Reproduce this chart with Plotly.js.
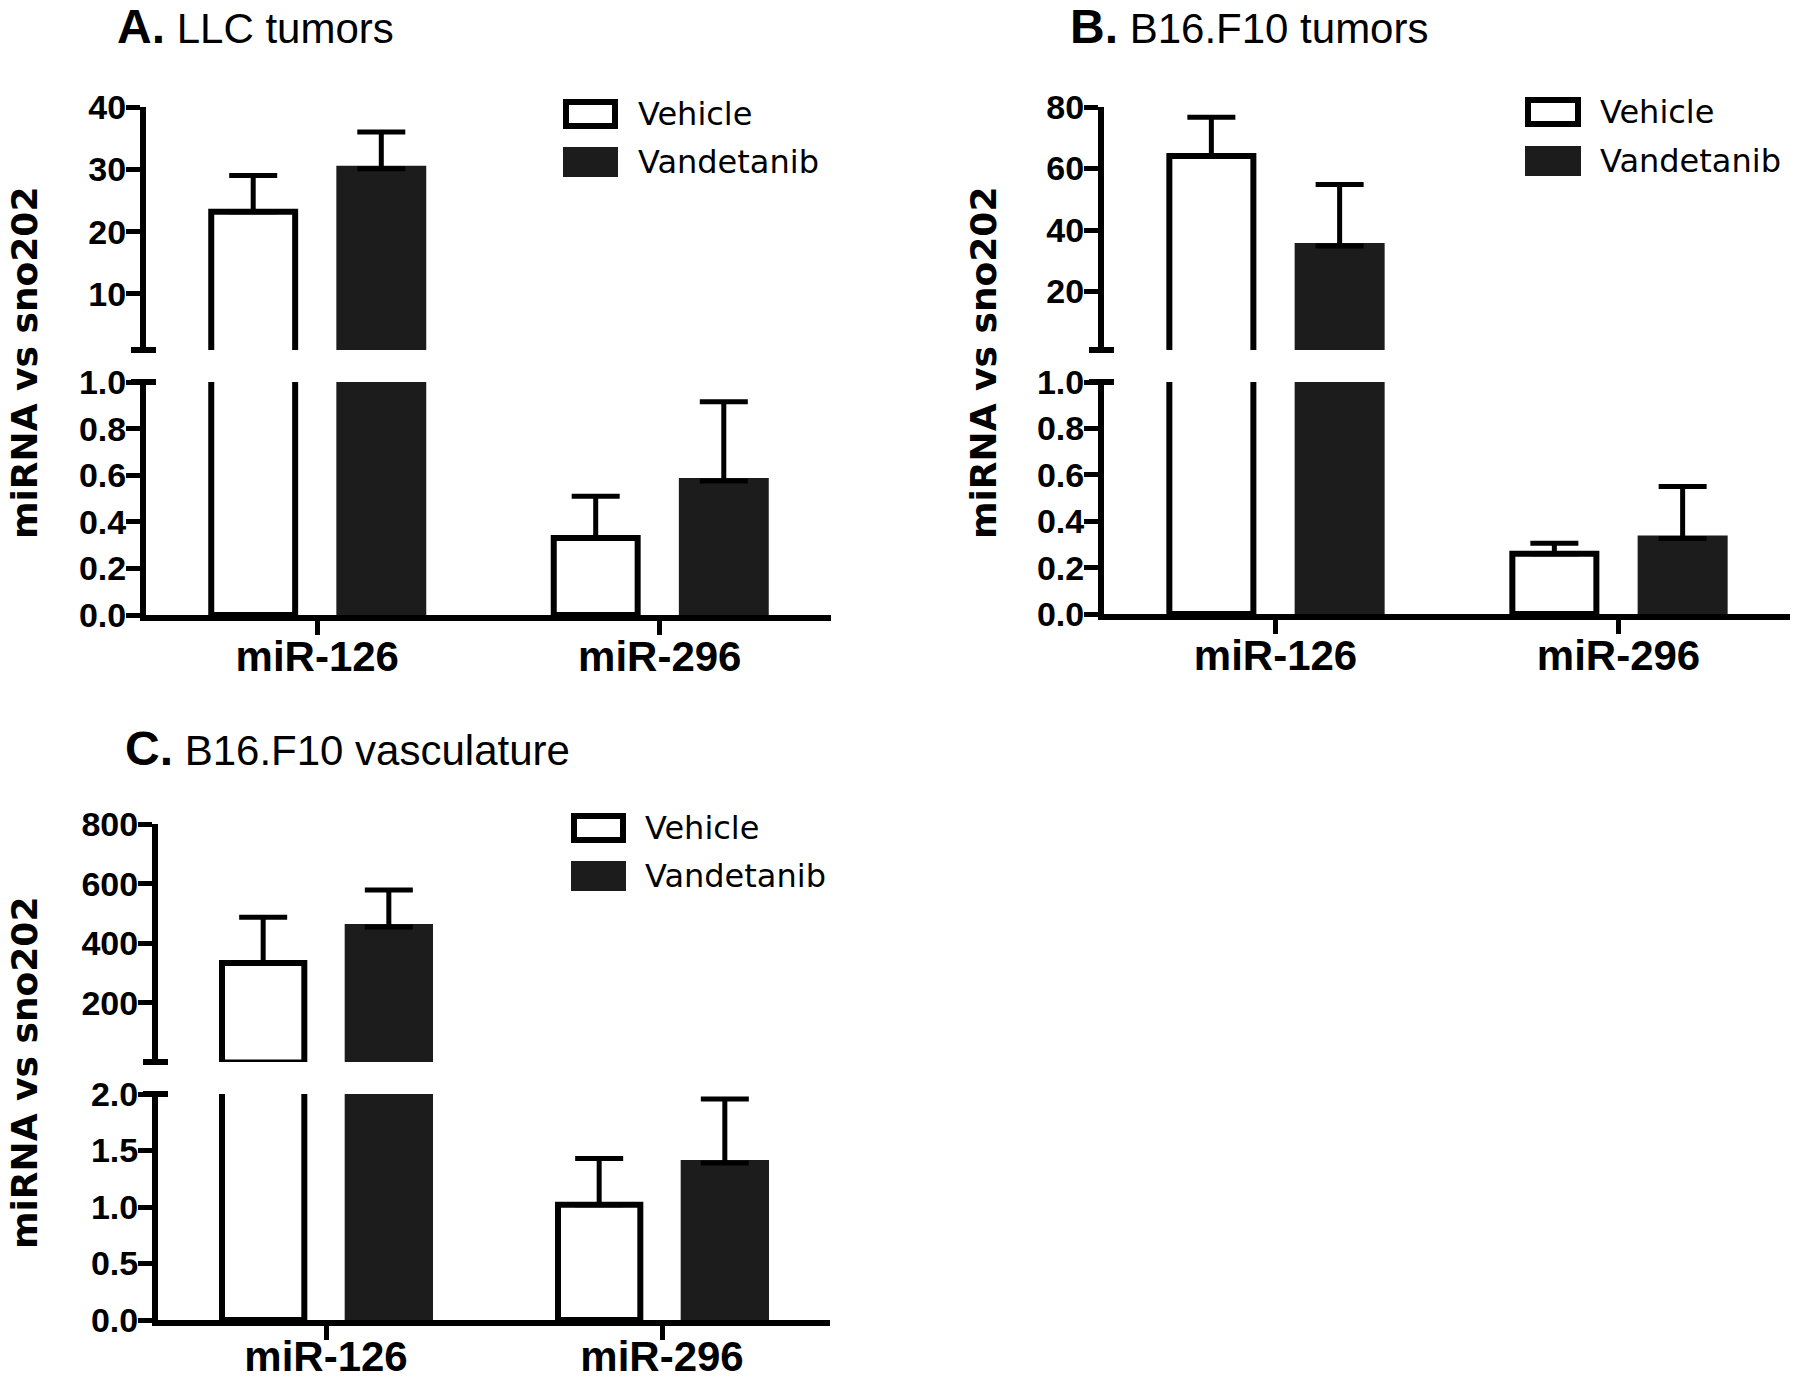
<!DOCTYPE html>
<html><head><meta charset="utf-8">
<script src="https://cdn.plot.ly/plotly-3.0.1.min.js"></script>
<style>html,body{margin:0;padding:0;background:#fff;} #chart{width:1800px;height:1382px;}</style>
</head><body><div id="chart"></div>
<script>
// ---------- data ----------
const categories = ['miR-126', 'miR-296'];
const seriesNames = ['Vehicle', 'Vandetanib'];

const llcVehicle = [23.2, 0.33];
const llcVehicleErr = [5.8, 0.18];
const llcVandetanib = [30.1, 0.575];
const llcVandetanibErr = [5.9, 0.34];

const b16Vehicle = [64.1, 0.26];
const b16VehicleErr = [12.6, 0.045];
const b16Vandetanib = [34.8, 0.325];
const b16VandetanibErr = [20.0, 0.225];

const vascVehicle = [334, 1.02];
const vascVehicleErr = [153, 0.41];
const vascVandetanib = [455, 1.39];
const vascVandetanibErr = [124, 0.565];

const noLowerErr = [0, 0];

const llcUpperTicks = [10, 20, 30, 40];
const b16UpperTicks = [20, 40, 60, 80];
const vascUpperTicks = [200, 400, 600, 800];
const fractionTicks = [0, 0.2, 0.4, 0.6, 0.8, 1.0];
const vascLowerTicks = [0, 0.5, 1.0, 1.5, 2.0];

const panelLetters = ['A.', 'B.', 'C.'];
const panelNames = ['LLC tumors', 'B16.F10 tumors', 'B16.F10 vasculature'];
const yTitle = 'miRNA vs sno202';

// ---------- layout helpers ----------
const W = 1800, H = 1382;
const FONT = 'Arial, "Liberation Sans", sans-serif';
const WIDE = '"DejaVu Sans", Verdana, sans-serif';
const fx = v => v / W;
const fy = v => 1 - v / H;
const VAND_COLOR = '#1c1c1c';

const panels = [
  { x: 'x', yl: 'y', yu: 'y2', xd: [146, 831], up: [107, 350], low: [382, 615],
    upRange: [1, 40], upTicks: llcUpperTicks, lowRange: [0, 1], lowTicks: fractionTicks,
    title: [115, 26], ytitle: [24, 363], sw: [566, 615], rows: [114, 162], tx: 636, xso: -14,
    data: [llcVehicle, llcVehicleErr, llcVandetanib, llcVandetanibErr] },
  { x: 'x2', yl: 'y3', yu: 'y4', xd: [1104, 1790], up: [107, 350], low: [382, 614],
    upRange: [1, 80], upTicks: b16UpperTicks, lowRange: [0, 1], lowTicks: fractionTicks,
    title: [1068, 26], ytitle: [983, 363], sw: [1528, 1578], rows: [112, 161], tx: 1598, xso: -14,
    data: [b16Vehicle, b16VehicleErr, b16Vandetanib, b16VandetanibErr] },
  { x: 'x3', yl: 'y5', yu: 'y6', xd: [158, 830], up: [824, 1062], low: [1094, 1320],
    upRange: [2, 800], upTicks: vascUpperTicks, lowRange: [0, 2], lowTicks: vascLowerTicks,
    title: [123, 749], ytitle: [24, 1073], sw: [574, 623], rows: [828, 876], tx: 643, xso: -19,
    data: [vascVehicle, vascVehicleErr, vascVandetanib, vascVandetanibErr] }
];

const traces = [];
const layout = {
  width: W, height: H, autosize: false,
  margin: { l: 0, r: 0, t: 0, b: 0, pad: 0 },
  paper_bgcolor: '#fff', plot_bgcolor: 'rgba(0,0,0,0)',
  barmode: 'group', bargap: 0.252, bargroupgap: 0.345,
  showlegend: false,
  font: { family: FONT, color: '#000' },
  annotations: [], shapes: []
};

const axName = id => id.replace(/^x/, 'xaxis').replace(/^y/, 'yaxis');

function yAxisCommon(p, range, ticks) {
  return {
    anchor: p.x, range: range, tickvals: ticks, tickformat: ticks[ticks.length - 1] < 5 ? '.1f' : 'd',
    showline: true, linecolor: '#000', linewidth: 6, ticks: 'outside', ticklen: 14, tickwidth: 5,
    tickcolor: '#000', showgrid: false, zeroline: false, fixedrange: true,
    ticklabelstandoff: -7,
    tickfont: { family: FONT, size: 34, weight: 700, color: '#000' }
  };
}

panels.forEach((p, i) => {
  const [veh, vehErr, van, vanErr] = p.data;
  [p.yl, p.yu].forEach(yid => {
    const isUpper = yid === p.yu;
    const keep = arr => isUpper ? arr.map(v => (v > p.upRange[0] ? v : null)) : arr;
    traces.push({
      type: 'bar', name: seriesNames[0], x: categories, y: keep(veh), xaxis: p.x, yaxis: yid,
      marker: { color: '#ffffff', line: { color: '#000', width: 6 } },
      error_y: { type: 'data', symmetric: false, array: vehErr, arrayminus: noLowerErr,
                 color: '#000', thickness: 5, width: 24 },
      hoverinfo: 'skip'
    });
    traces.push({
      type: 'bar', name: seriesNames[1], x: categories, y: keep(van), xaxis: p.x, yaxis: yid,
      marker: { color: VAND_COLOR, line: { color: VAND_COLOR, width: 6 } },
      error_y: { type: 'data', symmetric: false, array: vanErr, arrayminus: noLowerErr,
                 color: '#000', thickness: 5, width: 24 },
      hoverinfo: 'skip'
    });
  });

  layout[axName(p.x)] = {
    domain: [fx(p.xd[0]), fx(p.xd[1])], anchor: p.yl, range: [-0.5, 1.5],
    type: 'category', showline: true, linecolor: '#000', linewidth: 6,
    ticks: 'outside', ticklen: 14, tickwidth: 5, tickcolor: '#000',
    showgrid: false, zeroline: false, fixedrange: true,
    ticklabelstandoff: p.xso,
    tickfont: { family: FONT, size: 42, weight: 700, color: '#000' }
  };
  const ylo = yAxisCommon(p, p.lowRange, p.lowTicks);
  ylo.domain = [fy(p.low[1]), fy(p.low[0])];
  layout[axName(p.yl)] = ylo;
  const yup = yAxisCommon(p, p.upRange, p.upTicks);
  yup.domain = [fy(p.up[1]), fy(p.up[0])];
  layout[axName(p.yu)] = yup;

  // axis-break stubs
  const axX = p.xd[0] - 3;
  [p.low[0], p.up[1]].forEach(yy => {
    layout.shapes.push({ type: 'line', xref: 'paper', yref: 'paper',
      x0: fx(axX - 12), x1: fx(axX + 13), y0: fy(yy), y1: fy(yy),
      line: { color: '#000', width: 6 } });
  });

  // panel title
  layout.annotations.push({
    xref: 'paper', yref: 'paper', x: fx(p.title[0]), y: fy(p.title[1]),
    xanchor: 'left', yanchor: 'middle', showarrow: false,
    text: '<b><span style="font-size:48px">' + panelLetters[i] + '</span></b> ' + panelNames[i],
    font: { family: FONT, size: 42, color: '#000' }
  });
  // y title
  layout.annotations.push({
    xref: 'paper', yref: 'paper', x: fx(p.ytitle[0]), y: fy(p.ytitle[1]),
    xanchor: 'center', yanchor: 'middle', showarrow: false, textangle: -90,
    text: '<b>' + yTitle + '</b>',
    font: { family: WIDE, size: 36, color: '#000' }
  });
  // legend
  const fills = ['#ffffff', VAND_COLOR];
  const lines = ['#000000', VAND_COLOR];
  seriesNames.forEach((nm, k) => {
    const cy = p.rows[k];
    layout.shapes.push({ type: 'rect', xref: 'paper', yref: 'paper',
      x0: fx(p.sw[0]), x1: fx(p.sw[1]), y0: fy(cy - 12), y1: fy(cy + 12),
      fillcolor: fills[k], line: { color: lines[k], width: 6 } });
    layout.annotations.push({
      xref: 'paper', yref: 'paper', x: fx(p.tx), y: fy(cy),
      xanchor: 'left', yanchor: 'middle', showarrow: false, text: nm,
      font: { family: WIDE, size: 32, color: '#000' }
    });
  });
});

Plotly.newPlot('chart', traces, layout, { displayModeBar: false, staticPlot: true });
</script>
</body></html>
